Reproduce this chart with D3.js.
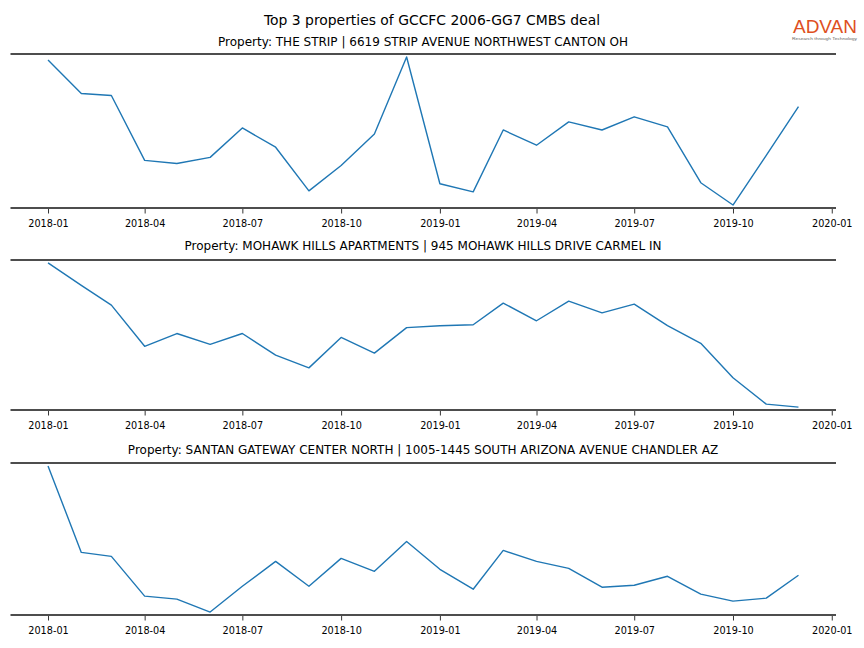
<!DOCTYPE html>
<html>
<head>
<meta charset="utf-8">
<script src="https://cdn.jsdelivr.net/npm/d3@7"></script>
<style>
  body { margin: 0; background: #fff; }
  svg { display: block; font-family: "DejaVu Sans", sans-serif; }
</style>
</head>
<body>
<svg id="chart" width="864" height="648"></svg>
<script>
// ---- data ----
const months = ["2018-01","2018-02","2018-03","2018-04","2018-05","2018-06","2018-07","2018-08","2018-09","2018-10","2018-11","2018-12",
                "2019-01","2019-02","2019-03","2019-04","2019-05","2019-06","2019-07","2019-08","2019-09","2019-10","2019-11","2019-12"];
const propertyTitles = [
  "Property: THE STRIP | 6619 STRIP AVENUE NORTHWEST CANTON OH",
  "Property: MOHAWK HILLS APARTMENTS | 945 MOHAWK HILLS DRIVE CARMEL IN",
  "Property: SANTAN GATEWAY CENTER NORTH | 1005-1445 SOUTH ARIZONA AVENUE CHANDLER AZ"
];
const stripValues   = [149, 116, 114, 50, 47, 53, 82, 63, 20, 45, 76, 152, 27, 19, 80, 65, 88, 80, 93, 83, 28, 6, 55, 103];
const mohawkValues  = [148, 125, 105, 63, 76, 65, 76, 54, 41, 72, 56, 82, 84, 85, 107, 89, 109, 97, 106, 84, 66, 31, 4, 1];
const santanValues  = [149, 62, 58, 18, 15, 2, 28, 53, 28, 56, 43, 73, 45, 25, 64, 53, 46, 27, 29, 38, 20, 13, 16, 39];
const seriesList = [stripValues, mohawkValues, santanValues];
const tickLabels = ["2018-01","2018-04","2018-07","2018-10","2019-01","2019-04","2019-07","2019-10","2020-01"];
const mainTitle = "Top 3 properties of GCCFC 2006-GG7 CMBS deal";

// ---- layout ----
const svg = d3.select("#chart");
const parse = d3.timeParse("%Y-%m");
const dates = months.map(parse);
const left = 10.5, right = 836;
const panels = [
  {top: 54, bottom: 208, titleY: 46},
  {top: 260, bottom: 410, titleY: 250},
  {top: 463, bottom: 615, titleY: 454}
];

// x scale: matplotlib-like 5% margin on the data range
const t0 = dates[0], t1 = dates[dates.length - 1];
const span = t1 - t0;
const x = d3.scaleTime()
  .domain([new Date(+t0 - span * 0.05), new Date(+t1 + span * 0.05)])
  .range([left, right]);

svg.append("text")
  .attr("x", 432).attr("y", 25)
  .attr("text-anchor", "middle")
  .attr("font-size", 13.9)
  .attr("fill", "#000")
  .text(mainTitle);

// logo
svg.append("text")
  .attr("x", 793).attr("y", 33)
  .attr("font-family", "Liberation Sans, Arial, sans-serif")
  .attr("font-size", 18)
  .attr("textLength", 64)
  .attr("lengthAdjust", "spacingAndGlyphs")
  .attr("fill", "#de4f22")
  .text("ADVAN");
svg.append("text")
  .attr("x", 792).attr("y", 40)
  .attr("font-family", "Liberation Sans, Arial, sans-serif")
  .attr("font-size", 4.2)
  .attr("textLength", 65)
  .attr("lengthAdjust", "spacingAndGlyphs")
  .attr("fill", "#666")
  .text("Research through Technology");

panels.forEach((p, i) => {
  const vals = seriesList[i];
  const [mn, mx] = d3.extent(vals);
  const pad = (mx - mn) * 0.02;
  const y = d3.scaleLinear().domain([mn - pad, mx + pad]).range([p.bottom, p.top]);

  const g = svg.append("g");

  g.append("text")
    .attr("x", 423).attr("y", p.titleY)
    .attr("text-anchor", "middle")
    .attr("font-size", 12)
    .attr("fill", "#000")
    .text(propertyTitles[i]);

  // line
  const line = d3.line().x((d, k) => x(dates[k])).y(d => y(d));
  g.append("path")
    .datum(vals)
    .attr("d", line)
    .attr("fill", "none")
    .attr("stroke", "#1f77b4")
    .attr("stroke-width", 1.4)
    .attr("stroke-linejoin", "round");

  // spines
  [p.top, p.bottom].forEach(yy => {
    g.append("line")
      .attr("x1", left).attr("x2", right)
      .attr("y1", yy).attr("y2", yy)
      .attr("stroke", "#4d4d4d")
      .attr("stroke-width", 2);
  });

  // x axis
  const tickDates = tickLabels.map(parse);
  const axis = d3.axisBottom(x)
    .tickValues(tickDates)
    .tickFormat(d3.timeFormat("%Y-%m"))
    .tickSize(4.5)
    .tickPadding(6.5);
  const ax = g.append("g")
    .attr("transform", `translate(0,${p.bottom + 1})`)
    .call(axis);
  ax.select(".domain").remove();
  ax.selectAll(".tick line").attr("stroke", "#000").attr("stroke-width", 0.8);
  ax.selectAll(".tick text")
    .attr("font-family", "DejaVu Sans, sans-serif")
    .attr("font-size", 9.7)
    .attr("fill", "#000");
});
</script>
</body>
</html>
